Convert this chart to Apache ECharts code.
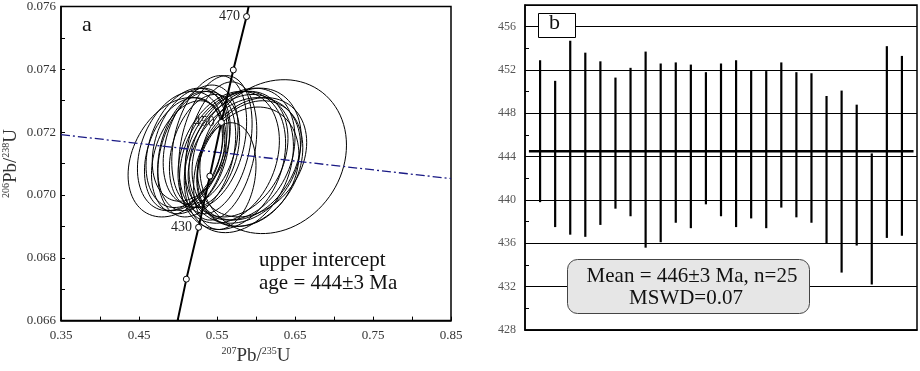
<!DOCTYPE html>
<html>
<head>
<meta charset="utf-8">
<script src="https://cdn.jsdelivr.net/npm/echarts@6/dist/echarts.min.js"></script>
<style>
  html, body { margin: 0; padding: 0; background: #fff; }
  #chart { width: 920px; height: 371px; }
</style>
</head>
<body>
<div id="chart"></div>
<script>
const serif = 'Liberation Serif';

// panel a: concordia (age markers)
const concAges = [420, 430, 440, 450, 460, 470];
const concX = [0.5107, 0.5264, 0.5408, 0.5556, 0.5709, 0.5879];
const concY = [0.06732, 0.06897, 0.07060, 0.07231, 0.07398, 0.07568];
const concEndX = [0.4995, 0.5905];
const concEndY = [0.0660, 0.0760];
const labeledAges = [430, 450, 470];

// discordia line
const discX = [0.35, 0.85];
const discY = [0.07192, 0.07052];

// error ellipses: centre, half-width, half-height, correlation
const ellCx = [0.498, 0.503, 0.507, 0.511, 0.514, 0.517, 0.520, 0.524, 0.529, 0.534, 0.540, 0.548, 0.555,
               0.565, 0.570, 0.575, 0.578, 0.582, 0.585, 0.588, 0.592, 0.595, 0.590, 0.622, 0.560];
const ellCy = [0.0712, 0.0714, 0.0713, 0.0715, 0.0712, 0.0716, 0.0714, 0.0713, 0.0716, 0.0714, 0.0717, 0.0716, 0.0714,
               0.0712, 0.0711, 0.0713, 0.0710, 0.0713, 0.0711, 0.0713, 0.0710, 0.0712, 0.0709, 0.07122, 0.0706];
const ellSx = [0.062, 0.055, 0.050, 0.052, 0.048, 0.050, 0.046, 0.050, 0.048, 0.045, 0.048, 0.047, 0.046,
               0.065, 0.068, 0.066, 0.070, 0.068, 0.072, 0.070, 0.068, 0.070, 0.065, 0.094, 0.040];
const ellSy = [0.0019, 0.0019, 0.0018, 0.0019, 0.0018, 0.0018, 0.0019, 0.0020, 0.0019, 0.0018, 0.0021, 0.0022, 0.0022,
               0.0021, 0.0022, 0.0020, 0.0022, 0.0021, 0.0020, 0.0021, 0.0020, 0.0019, 0.0019, 0.00245, 0.0017];
const ellRho = [0.3, 0.3, 0.3, 0.3, 0.3, 0.3, 0.3, 0.3, 0.3, 0.3, 0.3, 0.3, 0.3,
                0.25, 0.25, 0.25, 0.25, 0.25, 0.25, 0.25, 0.25, 0.25, 0.2, 0.15, 0.2];

// panel b: weighted mean ages (top/bottom of each error bar)
const spotNo = [1, 2, 3, 4, 5, 6, 7, 8, 9, 10, 11, 12, 13, 14, 15, 16, 17, 18, 19, 20, 21, 22, 23, 24, 25];
const ageHigh = [452.9, 451.0, 454.7, 453.6, 452.8, 451.3, 452.2, 453.7, 452.6, 452.7, 452.5, 451.8, 452.6,
                 452.9, 452.0, 451.9, 452.7, 451.8, 451.7, 449.6, 450.1, 448.8, 444.3, 454.2, 453.3];
const ageLow = [439.8, 437.5, 436.8, 436.6, 437.7, 439.2, 438.5, 435.6, 436.1, 437.9, 437.4, 439.6, 438.5,
                437.5, 438.3, 437.4, 439.3, 438.4, 437.9, 436.0, 433.3, 435.8, 432.2, 436.5, 436.7];
const meanX = [0.26, 25.77];
const meanAge = 444.5;

const ellData = ellCx.map((c, i) => [c, ellCy[i], ellSx[i], ellSy[i], ellRho[i]]);
const barData = spotNo.map((n, i) => [n, ageLow[i], ageHigh[i]]);

const chart = echarts.init(document.getElementById('chart'));

const tickLabel = { fontFamily: serif, fontSize: 13, color: '#333' };
const richName = {
  s: { fontFamily: serif, fontSize: 10, color: '#333', verticalAlign: 'top', lineHeight: 10 },
  m: { fontFamily: serif, fontSize: 19, color: '#333', lineHeight: 20 }
};

chart.setOption({
  animation: false,
  grid: [
    { left: 58, top: 5, right: 469, bottom: 43, show: true, borderColor: '#000', borderWidth: 1.5 },
    { left: 525, top: 5, right: 3, bottom: 41, show: true, borderColor: '#000', borderWidth: 1.5 }
  ],
  xAxis: [
    {
      gridIndex: 0, type: 'value', min: 0.35, max: 0.85, interval: 0.1,
      axisLine: { lineStyle: { color: '#000', width: 1.5 } },
      axisTick: { inside: true, length: 4, lineStyle: { color: '#000' } },
      minorTick: { show: true, splitNumber: 2, length: 4, lineStyle: { color: '#000' } },
      splitLine: { show: false },
      axisLabel: Object.assign({ margin: 8, formatter: v => v.toFixed(2) }, tickLabel),
      name: '{s|207}{m|Pb/}{s|235}{m|U}', nameLocation: 'middle', nameGap: 24,
      nameTextStyle: { rich: richName }
    },
    {
      gridIndex: 1, type: 'value', min: 0, max: 26,
      axisLine: { lineStyle: { color: '#000', width: 1.5 } },
      axisTick: { show: false }, axisLabel: { show: false }, splitLine: { show: false }
    }
  ],
  yAxis: [
    {
      gridIndex: 0, type: 'value', min: 0.066, max: 0.076, interval: 0.002,
      axisLine: { lineStyle: { color: '#000', width: 1.5 } },
      axisTick: { inside: true, length: 4, lineStyle: { color: '#000' } },
      minorTick: { show: true, splitNumber: 2, length: 4, lineStyle: { color: '#000' } },
      splitLine: { show: false },
      axisLabel: Object.assign({ margin: 5, formatter: v => v.toFixed(3) }, tickLabel),
      name: '{s|206}{m|Pb/}{s|238}{m|U}', nameLocation: 'middle', nameGap: 40, nameRotate: 90,
      nameTextStyle: { rich: richName }
    },
    {
      gridIndex: 1, type: 'value', min: 428, max: 458, interval: 4,
      axisLine: { lineStyle: { color: '#000', width: 1.5 } },
      axisTick: { inside: true, length: 4, lineStyle: { color: '#000' } },
      minorTick: { show: true, splitNumber: 2, length: 4, lineStyle: { color: '#000' } },
      splitLine: { show: true, lineStyle: { color: '#000', width: 1.2 } },
      axisLabel: Object.assign({ margin: 9, formatter: v => (v > 456 ? '' : v) }, tickLabel, { fontSize: 12, color: '#555' })
    }
  ],
  series: [
    {
      type: 'custom', xAxisIndex: 0, yAxisIndex: 0, clip: true,
      data: ellData,
      encode: { x: 0, y: 1 },
      renderItem: (params, api) => {
        const cx = api.value(0), cy = api.value(1), sx = api.value(2), sy = api.value(3), r = api.value(4);
        const q = Math.sqrt(1 - r * r);
        const pts = [];
        for (let k = 0; k <= 90; k++) {
          const t = k / 90 * Math.PI * 2;
          pts.push(api.coord([cx + sx * Math.cos(t), cy + sy * (r * Math.cos(t) + q * Math.sin(t))]));
        }
        return { type: 'polyline', shape: { points: pts }, style: { fill: 'none', stroke: '#000', lineWidth: 1 } };
      }
    },
    {
      type: 'line', xAxisIndex: 0, yAxisIndex: 0, symbol: 'none',
      data: discX.map((x, i) => [x, discY[i]]),
      lineStyle: { color: '#1a1a85', width: 1.3, type: [9, 3, 2, 3] }
    },
    {
      type: 'line', xAxisIndex: 0, yAxisIndex: 0, symbol: 'none',
      data: [[concEndX[0], concEndY[0]]].concat(concX.map((x, i) => [x, concY[i]]), [[concEndX[1], concEndY[1]]]),
      lineStyle: { color: '#000', width: 2 }
    },
    {
      type: 'scatter', xAxisIndex: 0, yAxisIndex: 0, symbol: 'circle', symbolSize: 6,
      data: concX.map((x, i) => [x, concY[i], concAges[i]]),
      itemStyle: { color: '#fff', borderColor: '#000', borderWidth: 1, opacity: 1 },
      label: {
        show: true, position: 'left', distance: 3,
        fontFamily: serif, fontSize: 14, color: '#222',
        formatter: p => (labeledAges.includes(p.value[2]) ? p.value[2] : '')
      },
      z: 5
    },
    {
      type: 'custom', xAxisIndex: 1, yAxisIndex: 1,
      data: barData,
      encode: { x: 0, y: [1, 2] },
      renderItem: (params, api) => {
        const a = api.coord([api.value(0), api.value(1)]);
        const b = api.coord([api.value(0), api.value(2)]);
        return { type: 'line', shape: { x1: a[0], y1: a[1], x2: b[0], y2: b[1] }, style: { stroke: '#000', lineWidth: 2.2 } };
      },
      z: 4
    },
    {
      type: 'line', xAxisIndex: 1, yAxisIndex: 1, symbol: 'none',
      data: meanX.map(x => [x, meanAge]),
      lineStyle: { color: '#000', width: 2.5 }, z: 5
    }
  ],
  graphic: [
    { type: 'text', left: 82, top: 14, z: 10, style: { text: 'a', font: '22px "Liberation Serif"', fill: '#111' } },
    { type: 'text', left: 259, top: 249, z: 10,
      style: { text: 'upper intercept\nage = 444\u00b13 Ma', font: '21px "Liberation Serif"', fill: '#111', lineHeight: 23 } },
    { type: 'rect', left: 538, top: 13, z: 10, shape: { width: 37, height: 24 },
      style: { fill: '#fff', stroke: '#000', lineWidth: 1 } },
    { type: 'text', left: 549, top: 12, z: 11, style: { text: 'b', font: '22px "Liberation Serif"', fill: '#111' } },
    { type: 'rect', left: 567, top: 259, z: 10, shape: { width: 242, height: 54, r: 10 },
      style: { fill: '#e6e6e6', stroke: '#444', lineWidth: 1 } },
    { type: 'text', x: 692, y: 266, z: 11,
      style: { text: 'Mean = 446\u00b13 Ma, n=25', font: '21px "Liberation Serif"', fill: '#111', align: 'center' } },
    { type: 'text', x: 686, y: 288, z: 11,
      style: { text: 'MSWD=0.07', font: '21px "Liberation Serif"', fill: '#111', align: 'center' } }
  ]
});
</script>
</body>
</html>
